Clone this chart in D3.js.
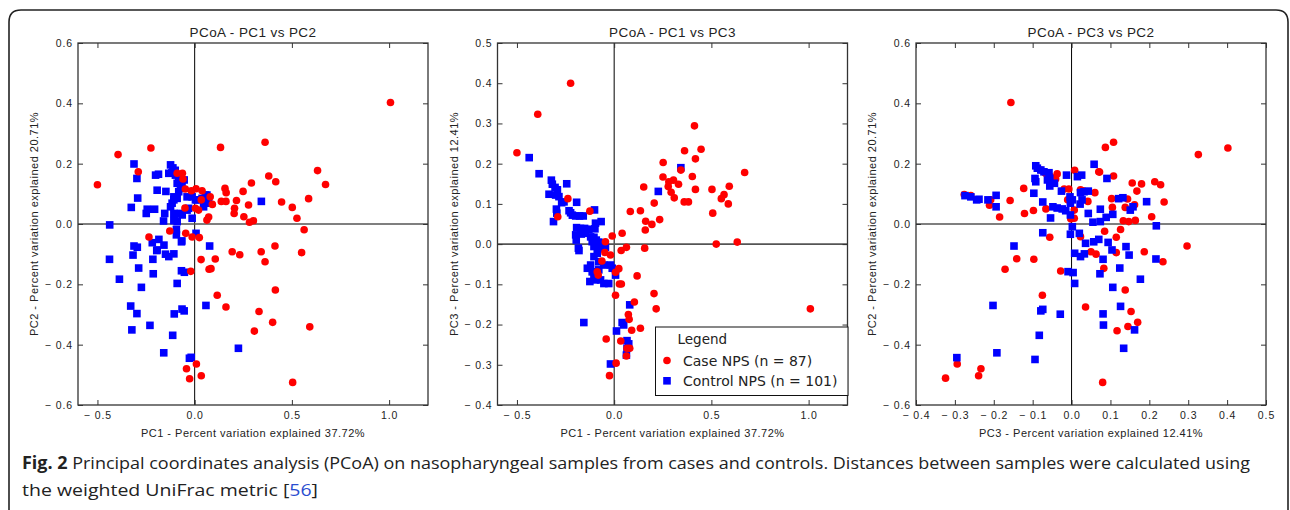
<!DOCTYPE html>
<html>
<head>
<meta charset="utf-8">
<script src="https://cdn.jsdelivr.net/npm/d3@7"></script>
<style>
  body { margin: 0; background: #fff; }
  svg { display: block; }
  text { font-family: 'Liberation Sans', Arial, sans-serif; fill: #222; }
</style>
</head>
<body>
<svg id="chart" width="1290" height="510"></svg>
<script>
/**
 * Data
 */

const titles = ['PCoA - PC1 vs PC2', 'PCoA - PC1 vs PC3', 'PCoA - PC3 vs PC2'];
const xLabels = [
  'PC1 - Percent variation explained 37.72%',
  'PC1 - Percent variation explained 37.72%',
  'PC3 - Percent variation explained 12.41%',
];
const yLabels = [
  'PC2 - Percent variation explained 20.71%',
  'PC3 - Percent variation explained 12.41%',
  'PC2 - Percent variation explained 20.71%',
];

const pc1Ticks = [-0.5, 0, 0.5, 1.0];
const pc2Ticks = [-0.6, -0.4, -0.2, 0, 0.2, 0.4, 0.6];
const pc3Ticks = [-0.4, -0.3, -0.2, -0.1, 0, 0.1, 0.2, 0.3, 0.4, 0.5];

const legendTitle = 'Legend';
const seriesNames = ['Case NPS (n = 87)', 'Control NPS (n = 101)'];

const captionBold = 'Fig. 2';
const captionLine1 = ' Principal coordinates analysis (PCoA) on nasopharyngeal samples from cases and controls. Distances between samples were calculated using';
const captionLine2 = 'the weighted UniFrac metric [';
const captionRef = '56';

// PC1 vs PC2
const pc1pc2Case = [
  [-0.50, 0.130], [-0.394, 0.230], [-0.225, 0.252], [-0.29, 0.173], [0.133, 0.254],
  [0.362, 0.271], [0.381, 0.159], [0.417, 0.140], [0.292, 0.136], [0.632, 0.177],
  [0.673, 0.131], [0.586, 0.084], [0.502, 0.055], [0.526, 0.019], [0.563, -0.019],
  [0.447, 0.073], [0.249, 0.108], [0.277, 0.063], [0.253, 0.024], [0.302, 0.011],
  [0.282, 0.006], [0.215, 0.078], [0.205, 0.052], [0.203, 0.035], [0.156, 0.118],
  [0.162, 0.104], [0.137, 0.075], [0.161, 0.075], [0.091, 0.065], [0.072, 0.023],
  [0.063, 0.013], [0.038, 0.110], [0.007, 0.117], [-0.017, 0.110], [0.080, 0.090],
  [0.034, 0.080], [0.020, 0.046], [0.004, 0.052], [-0.090, 0.168], [-0.063, 0.168],
  [-0.060, 0.149], [-0.048, 0.116], [-0.050, 0.053], [-0.128, -0.023], [-0.046, -0.031],
  [-0.013, -0.043], [0.024, -0.045], [-0.235, -0.043], [0.193, -0.092], [0.232, -0.102],
  [0.342, -0.092], [0.362, -0.125], [0.413, -0.073], [0.55, -0.095], [0.033, -0.118],
  [0.106, -0.116], [0.074, -0.150], [0.084, -0.148], [-0.02, -0.157], [0.116, -0.236],
  [0.161, -0.275], [0.331, -0.29], [0.415, -0.219], [0.401, -0.326], [0.307, -0.355],
  [0.592, -0.341], [0.504, -0.525], [0.009, -0.464], [-0.042, -0.48], [-0.026, -0.513],
  [0.034, -0.503], [1.007, 0.403],
];
const pc1pc2Control = [
  [-0.312, 0.199], [-0.297, 0.151], [-0.293, 0.086], [-0.326, 0.055], [-0.437, -0.003],
  [-0.249, 0.035], [-0.244, 0.049], [-0.206, 0.049], [-0.201, 0.162], [-0.186, 0.165],
  [-0.193, 0.112], [-0.148, 0.108], [-0.154, 0.035], [-0.16, 0.01], [-0.124, 0.196],
  [-0.112, 0.186], [-0.100, 0.178], [-0.133, 0.168], [-0.117, 0.170], [-0.099, 0.162],
  [-0.082, 0.146], [-0.065, 0.135], [-0.090, 0.135], [-0.054, 0.146], [-0.073, 0.118],
  [-0.107, 0.09], [-0.116, 0.069], [-0.124, 0.057], [-0.107, 0.08], [-0.09, 0.085],
  [-0.082, 0.107], [-0.107, 0.035], [-0.073, 0.035], [-0.102, 0.024], [-0.09, 0.008],
  [-0.064, 0.03], [-0.039, 0.046], [-0.031, 0.052], [-0.013, 0.019], [-0.039, 0.09],
  [-0.013, 0.09], [0.004, 0.08], [0.012, 0.08], [0.038, 0.085], [0.055, 0.096],
  [0.063, 0.096], [0.072, 0.085], [0.046, 0.057], [0.063, 0.069], [0.007, -0.031],
  [-0.107, 0.011], [-0.094, -0.018], [-0.094, -0.036], [-0.066, -0.056], [0.077, -0.073],
  [0.343, 0.075], [-0.218, -0.062], [-0.184, -0.051], [-0.158, -0.07], [-0.193, -0.086],
  [-0.312, -0.073], [-0.295, -0.077], [-0.438, -0.117], [-0.317, -0.103], [-0.288, -0.146],
  [-0.387, -0.183], [-0.274, -0.21], [-0.215, -0.117], [-0.213, -0.165], [-0.195, -0.088],
  [-0.15, -0.1], [-0.133, -0.108], [-0.107, -0.099], [-0.068, -0.059], [-0.068, -0.155],
  [-0.053, -0.16], [-0.09, -0.197], [-0.329, -0.272], [-0.297, -0.297], [-0.323, -0.351],
  [-0.23, -0.336], [-0.113, -0.369], [-0.105, -0.298], [-0.065, -0.282], [-0.054, -0.288],
  [0.058, -0.27], [-0.159, -0.427], [-0.027, -0.445], [-0.018, -0.442], [0.225, -0.412],
];

// PC1 vs PC3
const pc1pc3Case = [
  [-0.224, 0.40], [-0.393, 0.323], [-0.50, 0.227], [-0.238, 0.113], [-0.29, 0.068],
  [-0.125, 0.082], [0.413, 0.294], [0.447, 0.236], [0.362, 0.232], [0.418, 0.212],
  [0.252, 0.203], [0.671, 0.178], [0.343, 0.184], [0.251, 0.167], [0.402, 0.168],
  [0.305, 0.159], [0.281, 0.155], [0.331, 0.149], [0.278, 0.143], [0.293, 0.129],
  [0.309, 0.115], [0.418, 0.136], [0.152, 0.142], [0.36, 0.105], [0.382, 0.105],
  [0.503, 0.136], [0.592, 0.144], [0.565, 0.123], [0.551, 0.113], [0.587, 0.1],
  [0.507, 0.077], [0.206, 0.102], [0.135, 0.083], [0.083, 0.081], [0.234, 0.061],
  [0.162, 0.057], [0.194, 0.049], [0.16, 0.035], [0.041, 0.027], [-0.01, 0.02],
  [-0.045, 0.006], [0.525, 0.0], [0.633, 0.005], [0.063, -0.008], [0.036, -0.016],
  [0.157, -0.01], [-0.048, -0.021], [-0.063, -0.042], [-0.019, -0.027], [-0.087, -0.069],
  [-0.082, -0.077], [0.024, -0.061], [0.007, -0.07], [0.118, -0.079], [0.027, -0.099],
  [0.037, -0.099], [0.007, -0.127], [0.205, -0.123], [0.216, -0.161], [0.104, -0.144],
  [0.073, -0.175], [0.077, -0.187], [0.09, -0.214], [0.135, -0.209], [-0.041, -0.236],
  [0.034, -0.241], [0.08, -0.259], [0.066, -0.259], [0.063, -0.278], [0.01, -0.296],
  [-0.024, -0.327], [1.009, -0.161],
];
const pc1pc3Control = [
  [-0.437, 0.215], [-0.386, 0.175], [-0.323, 0.159], [-0.318, 0.149], [-0.304, 0.141],
  [-0.292, 0.135], [-0.335, 0.124], [-0.301, 0.122], [-0.284, 0.118], [-0.244, 0.15],
  [-0.258, 0.105], [-0.27, 0.103], [-0.193, 0.104], [-0.297, 0.087], [-0.295, 0.077],
  [-0.312, 0.056], [-0.232, 0.083], [-0.224, 0.078], [-0.215, 0.072], [-0.198, 0.07],
  [-0.178, 0.07], [-0.159, 0.07], [-0.101, 0.085], [-0.193, 0.041], [-0.173, 0.039],
  [-0.152, 0.039], [-0.13, 0.037], [-0.096, 0.052], [-0.067, 0.056], [-0.099, 0.038],
  [-0.198, 0.023], [-0.195, 0.01], [-0.147, 0.027], [-0.121, 0.018], [-0.104, 0.017],
  [-0.092, 0.01], [-0.079, 0.005], [-0.05, 0.002], [-0.099, -0.002], [-0.07, -0.006],
  [-0.045, -0.008], [-0.184, -0.01], [0.227, 0.131], [0.343, 0.19], [-0.169, 0.025],
  [-0.113, 0.006], [-0.087, 0.002], [-0.061, 0.002], [-0.104, -0.006], [-0.07, -0.01],
  [-0.181, -0.016], [-0.104, -0.031], [-0.087, -0.023], [-0.079, -0.044], [-0.121, -0.052],
  [-0.138, -0.06], [-0.113, -0.069], [-0.104, -0.081], [-0.125, -0.093], [-0.096, -0.089],
  [-0.07, -0.089], [-0.053, -0.098], [-0.028, -0.098], [-0.079, -0.064], [-0.053, -0.052],
  [-0.019, -0.052], [-0.01, -0.06], [0.007, -0.077], [0.08, -0.151], [-0.156, -0.195],
  [0.041, -0.195], [0.049, -0.201], [0.012, -0.216], [0.066, -0.24], [0.075, -0.248],
  [0.066, -0.259], [0.063, -0.276], [-0.019, -0.298],
];

// PC3 vs PC2
const pc3pc2Case = [
  [-0.156, 0.403], [0.326, 0.23], [0.402, 0.252], [0.087, 0.254], [0.108, 0.271],
  [0.07, 0.173], [0.108, 0.159], [0.008, 0.178], [-0.067, 0.168], [-0.037, 0.166],
  [-0.054, 0.157], [-0.079, 0.179], [-0.041, 0.149], [-0.123, 0.118], [-0.158, 0.078],
  [-0.121, 0.035], [-0.098, 0.045], [-0.066, 0.05], [-0.185, 0.023], [-0.211, 0.062],
  [-0.208, 0.08], [-0.259, 0.094], [-0.276, 0.098], [-0.019, 0.116], [-0.007, 0.116],
  [-0.01, 0.08], [0.007, 0.046], [-0.002, 0.017], [0.007, 0.019], [0.023, 0.113],
  [0.03, 0.11], [0.06, 0.104], [0.042, 0.075], [0.103, 0.084], [0.072, 0.172],
  [0.156, 0.136], [0.168, 0.109], [0.18, 0.133], [0.214, 0.14], [0.229, 0.13],
  [0.238, 0.073], [0.206, 0.024], [0.144, 0.083], [0.162, 0.064], [0.138, 0.055],
  [0.105, 0.055], [0.133, 0.011], [0.147, 0.008], [0.164, 0.012], [0.126, -0.018],
  [0.085, -0.024], [0.115, -0.044], [0.023, -0.042], [-0.056, -0.044], [0.297, -0.073],
  [-0.141, -0.115], [-0.097, -0.117], [-0.171, -0.15], [-0.028, -0.156], [0.05, -0.092],
  [0.063, -0.1], [0.115, -0.095], [0.187, -0.092], [0.235, -0.125], [0.083, -0.147],
  [0.138, -0.219], [-0.075, -0.236], [0.036, -0.275], [0.153, -0.29], [0.17, -0.326],
  [0.145, -0.34], [0.117, -0.354], [0.08, -0.525], [-0.294, -0.464], [-0.233, -0.48],
  [-0.239, -0.503], [-0.324, -0.511],
];
const pc3pc2Control = [
  [-0.092, 0.193], [-0.088, 0.185], [-0.079, 0.179], [-0.071, 0.173], [-0.094, 0.151],
  [-0.092, 0.14], [-0.062, 0.146], [-0.058, 0.17], [-0.056, 0.151], [-0.044, 0.135],
  [-0.056, 0.126], [-0.013, 0.162], [0.015, 0.157], [0.026, 0.162], [0.058, 0.198],
  [0.091, 0.151], [-0.097, 0.102], [-0.074, 0.073], [-0.026, 0.109], [-0.048, 0.057],
  [-0.037, 0.053], [-0.024, 0.05], [-0.015, 0.044], [-0.054, 0.02], [-0.004, 0.09],
  [0.002, 0.08], [-0.003, 0.069], [-0.003, 0.03], [0.002, -0.009], [-0.003, -0.034],
  [0.02, -0.031], [0.022, 0.066], [0.027, 0.08], [0.023, 0.104], [0.032, 0.107],
  [0.043, 0.109], [0.043, 0.035], [0.055, 0.006], [0.074, 0.049], [0.074, 0.008],
  [0.089, 0.022], [0.106, 0.032], [0.121, 0.084], [0.132, 0.087], [0.151, 0.046],
  [0.158, 0.057], [0.193, 0.074], [0.218, -0.006], [-0.274, 0.094], [-0.259, 0.09],
  [-0.244, 0.08], [-0.238, 0.082], [-0.215, 0.08], [-0.194, 0.095], [-0.194, 0.057],
  [-0.074, -0.029], [0.036, -0.064], [0.057, -0.059], [0.07, -0.051], [0.094, -0.061],
  [-0.148, -0.073], [0.14, -0.075], [0.008, -0.097], [0.023, -0.108], [0.033, -0.099],
  [0.104, -0.086], [0.148, -0.103], [0.081, -0.117], [0.217, -0.116], [0.124, -0.146],
  [-0.009, -0.158], [0.004, -0.161], [0.073, -0.165], [0.008, -0.197], [0.177, -0.183],
  [0.106, -0.21], [-0.202, -0.27], [-0.079, -0.288], [-0.074, -0.283], [-0.029, -0.299],
  [0.081, -0.298], [0.126, -0.273], [0.082, -0.335], [0.162, -0.351], [-0.083, -0.369],
  [-0.192, -0.427], [-0.094, -0.449], [-0.295, -0.443], [0.134, -0.412],
];

/**
 * Layout
 */

const CASE_COLOR = '#ff0000';
const CONTROL_COLOR = '#0000ff';
const plotTop = 43;
const plotBottom = 405;
const plotWidth = 350;
const tickFontSize = 10.5;

const panels = [
  {
    title: titles[0], xLabel: xLabels[0], yLabel: yLabels[0],
    left: 78, xDomain: [-0.6, 1.2], yDomain: [-0.6, 0.6],
    xTicks: pc1Ticks, yTicks: pc2Ticks,
    caseData: pc1pc2Case, controlData: pc1pc2Control, caseOnTop: true,
  },
  {
    title: titles[1], xLabel: xLabels[1], yLabel: yLabels[1],
    left: 497.5, xDomain: [-0.6, 1.2], yDomain: [-0.4, 0.5],
    xTicks: pc1Ticks, yTicks: pc3Ticks,
    caseData: pc1pc3Case, controlData: pc1pc3Control, caseOnTop: true, legend: true,
  },
  {
    title: titles[2], xLabel: xLabels[2], yLabel: yLabels[2],
    left: 916, xDomain: [-0.4, 0.5], yDomain: [-0.6, 0.6],
    xTicks: pc3Ticks, yTicks: pc2Ticks,
    caseData: pc3pc2Case, controlData: pc3pc2Control, caseOnTop: false,
  },
];

function formatTick(d) {
  const v = Math.abs(d) < 1e-9 ? 0 : d;
  return v < 0 ? '\u2212 ' + Math.abs(v).toFixed(1) : v.toFixed(1);
}

const svg = d3.select('#chart');

// figure frame (rounded top, open at the bottom)
svg.append('path')
  .attr('d', 'M9,520 L9,22 Q9,10 21,10 L1276,10 Q1288,10 1288,22 L1288,520')
  .attr('fill', 'none')
  .attr('stroke', '#222')
  .attr('stroke-width', 1.6);

function drawCases(g, data, x, y) {
  g.append('g')
    .selectAll('circle')
    .data(data)
    .join('circle')
    .attr('cx', d => x(d[0]))
    .attr('cy', d => y(d[1]))
    .attr('r', 3.8)
    .attr('fill', CASE_COLOR);
}

function drawControls(g, data, x, y) {
  const s = 7.6;
  g.append('g')
    .selectAll('rect')
    .data(data)
    .join('rect')
    .attr('x', d => x(d[0]) - s / 2)
    .attr('y', d => y(d[1]) - s / 2)
    .attr('width', s)
    .attr('height', s)
    .attr('fill', CONTROL_COLOR);
}

function styleAxis(sel) {
  sel.select('.domain').remove();
  sel.selectAll('.tick line').attr('stroke', '#333');
  sel.selectAll('.tick text')
    .style('font-size', tickFontSize + 'px')
    .style('letter-spacing', '0.9px')
    .attr('fill', '#222');
}

function drawPanel(p) {
  const right = p.left + plotWidth;
  const x = d3.scaleLinear().domain(p.xDomain).range([p.left, right]);
  const y = d3.scaleLinear().domain(p.yDomain).range([plotBottom, plotTop]);
  const g = svg.append('g');

  // zero lines
  g.append('line')
    .attr('x1', x(0)).attr('x2', x(0))
    .attr('y1', plotTop).attr('y2', plotBottom)
    .attr('stroke', '#000').attr('stroke-width', 1);
  g.append('line')
    .attr('x1', p.left).attr('x2', right)
    .attr('y1', y(0)).attr('y2', y(0))
    .attr('stroke', '#555').attr('stroke-width', 1.6);

  // points
  if (p.caseOnTop) {
    drawControls(g, p.controlData, x, y);
    drawCases(g, p.caseData, x, y);
  } else {
    drawCases(g, p.caseData, x, y);
    drawControls(g, p.controlData, x, y);
  }

  // axes, ticks pointing inward
  g.append('g')
    .attr('transform', `translate(0,${plotBottom})`)
    .call(d3.axisBottom(x).tickValues(p.xTicks).tickFormat(formatTick)
      .tickSizeInner(-5).tickSizeOuter(0).tickPadding(7))
    .call(styleAxis);
  g.append('g')
    .attr('transform', `translate(${p.left},0)`)
    .call(d3.axisLeft(y).tickValues(p.yTicks).tickFormat(formatTick)
      .tickSizeInner(-5).tickSizeOuter(0).tickPadding(5))
    .call(styleAxis);
  g.append('g')
    .attr('transform', `translate(0,${plotTop})`)
    .call(d3.axisTop(x).tickValues(p.xTicks).tickFormat('')
      .tickSizeInner(-5).tickSizeOuter(0))
    .call(styleAxis);
  g.append('g')
    .attr('transform', `translate(${right},0)`)
    .call(d3.axisRight(y).tickValues(p.yTicks).tickFormat('')
      .tickSizeInner(-5).tickSizeOuter(0))
    .call(styleAxis);

  // plot frame
  g.append('rect')
    .attr('x', p.left).attr('y', plotTop)
    .attr('width', plotWidth).attr('height', plotBottom - plotTop)
    .attr('fill', 'none')
    .attr('stroke', '#333')
    .attr('stroke-width', 1.3);

  // title and axis labels
  g.append('text')
    .attr('x', p.left + plotWidth / 2)
    .attr('y', 37)
    .attr('text-anchor', 'middle')
    .style('font-size', '13.5px')
    .style('letter-spacing', '0.4px')
    .text(p.title);
  g.append('text')
    .attr('x', p.left + plotWidth / 2)
    .attr('y', 437)
    .attr('text-anchor', 'middle')
    .style('font-size', '11px')
    .style('letter-spacing', '0.5px')
    .text(p.xLabel);
  g.append('text')
    .attr('transform', `translate(${p.left - 40},${(plotTop + plotBottom) / 2}) rotate(-90)`)
    .attr('text-anchor', 'middle')
    .style('font-size', '11px')
    .style('letter-spacing', '0.5px')
    .text(p.yLabel);

  if (p.legend) {
    drawLegend(g, right);
  }
}

function drawLegend(g, right) {
  const lx = right - 192;
  const ly = 327;
  const lg = g.append('g').attr('transform', `translate(${lx},${ly})`);
  lg.append('rect')
    .attr('width', 192.5).attr('height', 68.5)
    .attr('fill', '#fff')
    .attr('stroke', '#111')
    .attr('stroke-width', 1);
  const font = "'DejaVu Sans', Verdana, sans-serif";
  lg.append('text')
    .attr('x', 22).attr('y', 17)
    .style('font-family', font).style('font-size', '13.5px')
    .text(legendTitle);
  lg.append('circle')
    .attr('cx', 11.5).attr('cy', 33.5).attr('r', 3.8)
    .attr('fill', CASE_COLOR);
  lg.append('rect')
    .attr('x', 7.7).attr('y', 50).attr('width', 7.6).attr('height', 7.6)
    .attr('fill', CONTROL_COLOR);
  seriesNames.forEach((name, i) => {
    lg.append('text')
      .attr('x', 27.5).attr('y', 38.5 + i * 20)
      .style('font-family', font).style('font-size', '14px')
      .text(name);
  });
}

panels.forEach(drawPanel);

// caption
const capFont = "'Open Sans', 'Noto Sans', sans-serif";
const cap1 = svg.append('text')
  .attr('x', 22).attr('y', 469)
  .attr('textLength', 1228)
  .attr('lengthAdjust', 'spacingAndGlyphs')
  .style('font-family', capFont)
  .style('font-size', '17px')
  .attr('fill', '#333');
cap1.append('tspan').style('font-weight', 'bold').attr('fill', '#222').text(captionBold);
cap1.append('tspan').text(captionLine1);

const cap2 = svg.append('text')
  .attr('x', 22).attr('y', 496)
  .attr('textLength', 296)
  .attr('lengthAdjust', 'spacingAndGlyphs')
  .style('font-family', capFont)
  .style('font-size', '17px')
  .attr('fill', '#333');
cap2.append('tspan').text(captionLine2);
cap2.append('tspan').attr('fill', '#2a4dd0').text(captionRef);
cap2.append('tspan').text(']');
</script>
</body>
</html>
